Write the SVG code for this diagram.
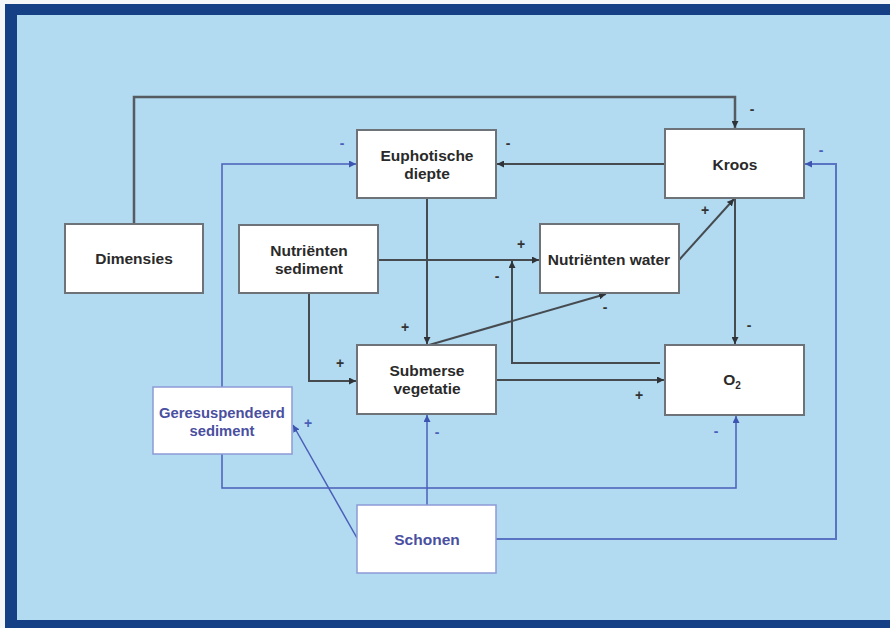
<svg xmlns="http://www.w3.org/2000/svg" width="890" height="628" viewBox="0 0 890 628">
<style>
.node rect{fill:#ffffff;stroke:#6d7378;stroke-width:2}
.bnode rect{fill:#ffffff;stroke:#8d9ad6;stroke-width:1.5}
.t{font-family:"Liberation Sans",Arial,sans-serif;font-weight:bold;font-size:15.5px;fill:#2a2a2a;text-anchor:middle}
.bt{font-family:"Liberation Sans",Arial,sans-serif;font-weight:bold;font-size:15.5px;fill:#4a4f9f;text-anchor:middle}
.k{fill:none;stroke:#464b50;stroke-width:2}
.b{fill:none;stroke:#4a5fb8;stroke-width:1.5}
.lk{font-family:"Liberation Sans",Arial,sans-serif;font-weight:bold;font-size:14px;fill:#333;text-anchor:middle}
.lb{font-family:"Liberation Sans",Arial,sans-serif;font-weight:bold;font-size:14px;fill:#4a5fb8;text-anchor:middle}
</style>
<defs>
<marker id="ak" viewBox="0 0 8 8" refX="8" refY="4" markerWidth="7" markerHeight="7" markerUnits="userSpaceOnUse" orient="auto"><path d="M0,0 L8,4 L0,8 z" fill="#2f3337"/></marker>
<marker id="ab" viewBox="0 0 8 8" refX="8" refY="4" markerWidth="7" markerHeight="7" markerUnits="userSpaceOnUse" orient="auto"><path d="M0,0 L8,4 L0,8 z" fill="#3d55b0"/></marker>
</defs>
<rect x="0" y="0" width="890" height="628" fill="#f4f6f8"/>
<rect x="5" y="4" width="885" height="624" fill="#164086"/>
<rect x="17" y="15" width="873" height="605" fill="#b2daf1"/>

<g id="connectors">
<path class="k" d="M134,224 V97 H735 V128" marker-end="url(#ak)" style="stroke:#555b60;stroke-width:2.5"/>
<path class="k" d="M665,164 H497" marker-end="url(#ak)"/>
<path class="k" d="M427,198 V344" marker-end="url(#ak)"/>
<path class="k" d="M378,260 H539" marker-end="url(#ak)"/>
<path class="k" d="M309,293 V381 H356" marker-end="url(#ak)"/>
<path class="k" d="M429,345 L606,294" marker-end="url(#ak)"/>
<path class="k" d="M679,260 L734,199" marker-end="url(#ak)"/>
<path class="k" d="M735,198 V344" marker-end="url(#ak)"/>
<path class="k" d="M660,363 H512 V261" marker-end="url(#ak)"/>
<path class="k" d="M496,380 H664" marker-end="url(#ak)"/>
<path class="b" d="M222,387 V164 H356" marker-end="url(#ab)"/>
<path class="b" d="M222,454 V488 H736 V416" marker-end="url(#ab)"/>
<path class="b" d="M357,538 L293,425" marker-end="url(#ab)"/>
<path class="b" d="M427,505 V415" marker-end="url(#ab)"/>
<path class="b" d="M496,539 H836 V164 H805" marker-end="url(#ab)" style="stroke:#5a74c4;stroke-width:2"/>
</g>

<g id="labels">
<text class="lk" x="752" y="114">-</text>
<text class="lk" x="508" y="148">-</text>
<text class="lk" x="405" y="332">+</text>
<text class="lk" x="521" y="249">+</text>
<text class="lk" x="340" y="368">+</text>
<text class="lk" x="605" y="312">-</text>
<text class="lk" x="705" y="215">+</text>
<text class="lk" x="749" y="330">-</text>
<text class="lk" x="497" y="281">-</text>
<text class="lk" x="639" y="400">+</text>
<text class="lb" x="342" y="148">-</text>
<text class="lb" x="716" y="436">-</text>
<text class="lb" x="308" y="428">+</text>
<text class="lb" x="437" y="437">-</text>
<text class="lb" x="821" y="155">-</text>
</g>

<g id="euphotische" class="node"><rect x="357" y="130" width="139" height="68"/><text class="t" x="427" y="161">Euphotische</text><text class="t" x="427" y="179">diepte</text></g>
<g id="kroos" class="node"><rect x="665" y="129" width="139" height="69"/><text class="t" x="735" y="170">Kroos</text></g>
<g id="dimensies" class="node"><rect x="65" y="224" width="138" height="69"/><text class="t" x="134" y="264">Dimensies</text></g>
<g id="nutrienten-sediment" class="node"><rect x="239" y="225" width="139" height="68"/><text class="t" x="309" y="256">Nutriënten</text><text class="t" x="309" y="274">sediment</text></g>
<g id="nutrienten-water" class="node"><rect x="540" y="224" width="139" height="69"/><text class="t" x="609" y="265">Nutriënten water</text></g>
<g id="submerse" class="node"><rect x="357" y="345" width="139" height="69"/><text class="t" x="427" y="376">Submerse</text><text class="t" x="427" y="394">vegetatie</text></g>
<g id="o2" class="node"><rect x="665" y="345" width="139" height="70"/><text class="t" x="732" y="385">O<tspan font-size="10px" dy="4">2</tspan></text></g>
<g id="geresuspendeerd" class="bnode"><rect x="153" y="387" width="139" height="67"/><text class="bt" x="222" y="418" style="font-size:14.8px">Geresuspendeerd</text><text class="bt" x="222" y="436" style="font-size:14.8px">sediment</text></g>
<g id="schonen" class="bnode"><rect x="357" y="505" width="139" height="68"/><text class="bt" x="427" y="545">Schonen</text></g>
</svg>
